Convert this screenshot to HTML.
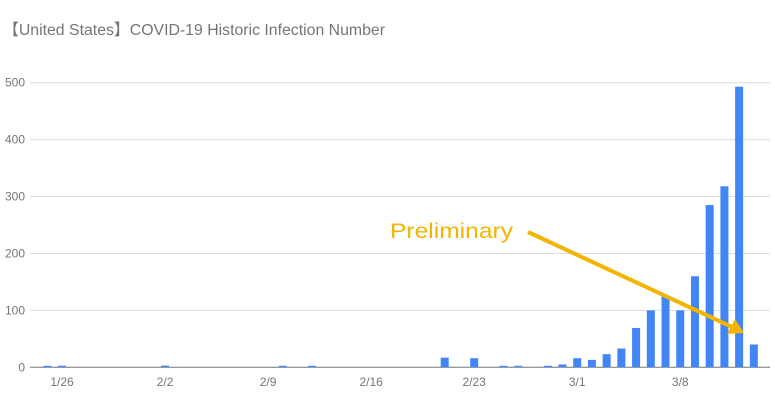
<!DOCTYPE html>
<html><head><meta charset="utf-8"><style>
body{margin:0;background:#fff;}
svg{display:block;font-family:"Liberation Sans","Noto Sans CJK JP",sans-serif;}
</style></head><body>
<svg id="chart" width="775" height="402">
<text x="3" y="35" font-size="16" textLength="382" lengthAdjust="spacingAndGlyphs" fill="#757575">【United States】COVID-19 Historic Infection Number</text>
<g id="grid"></g><g id="bars"></g><g id="xlabels"></g>
<text x="390" y="238" font-size="21" textLength="123" lengthAdjust="spacingAndGlyphs" fill="#F4B400">Preliminary</text>
<g>
<line x1="528" y1="232" x2="732" y2="327" stroke="#F4B400" stroke-width="4"/>
<polygon points="744,333 727,334 735,319" fill="#F4B400"/>
</g>
</svg>
<script>
const days = [];
const startDate = new Date(2020,0,24);
for(let i=0;i<50;i++){const d=new Date(startDate);d.setDate(d.getDate()+i);days.push((d.getMonth()+1)+'/'+d.getDate());}
const counts = {"1/25":1,"1/26":1,"2/2":3,"2/10":1,"2/12":1,"2/21":17,"2/23":16,"2/25":2,"2/26":2,"2/28":2,"2/29":5,
"3/1":16,"3/2":13,"3/3":23,"3/4":33,"3/5":69,"3/6":100,"3/7":125,"3/8":100,"3/9":160,"3/10":285,"3/11":318,"3/12":493,"3/13":40};
const yTicks = [0,100,200,300,400,500];
const xTickLabels = ["1/26","2/2","2/9","2/16","2/23","3/1","3/8"];
const NS='http://www.w3.org/2000/svg';
const x = i => 62 + (i-2)*14.72;
const y = v => 367.3 - v*(284.6/500);
const grid=document.getElementById('grid'), bars=document.getElementById('bars'), xl=document.getElementById('xlabels');
yTicks.forEach(t=>{
  const l=document.createElementNS(NS,'line');
  l.setAttribute('x1',30);l.setAttribute('x2',770);l.setAttribute('y1',y(t));l.setAttribute('y2',y(t));
  l.setAttribute('stroke',t===0?'#777':'#ddd');l.setAttribute('stroke-width',1);
  
  
  grid.appendChild(l);
  const tx=document.createElementNS(NS,'text');
  tx.setAttribute('x',25);tx.setAttribute('y',y(t)+4);tx.setAttribute('text-anchor','end');
  tx.setAttribute('font-size',12);tx.setAttribute('fill','#757575');tx.textContent=t;
  
  
  grid.appendChild(tx);
});
days.forEach((d,i)=>{
  const v=counts[d]||0; if(!v) return;
  const r=document.createElementNS(NS,'rect');
  const h=Math.max(1.5,367.3-y(v));
  r.setAttribute('x',x(i)-4);r.setAttribute('width',8);r.setAttribute('y',367.3-h);r.setAttribute('height',h);
  r.setAttribute('fill','#4285F4');
  
  
  bars.appendChild(r);
});
xTickLabels.forEach(lab=>{
  const i=days.indexOf(lab);
  const tx=document.createElementNS(NS,'text');
  tx.setAttribute('x',x(i));tx.setAttribute('y',386);tx.setAttribute('text-anchor','middle');
  tx.setAttribute('font-size',12);tx.setAttribute('fill','#757575');tx.textContent=lab;
  
  
  xl.appendChild(tx);
});
</script>
</body></html>
